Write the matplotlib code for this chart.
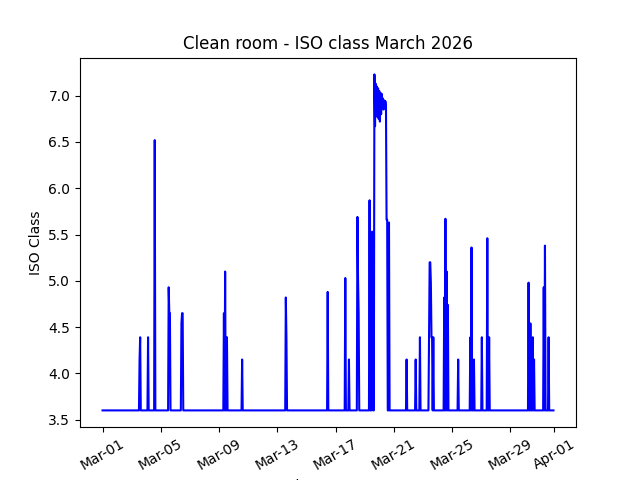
import matplotlib
matplotlib.use('Agg')
import matplotlib.pyplot as plt
import matplotlib.dates as mdates
import numpy as np
import pandas as pd

# hourly readings, March 2026
start = "2026-03-01 00:00"
n_hours = 744
baseline = 3.6

# hour index since Mar-01 00:00 -> ISO class reading
spike_hours = [61, 62, 75, 86, 109, 110, 111, 130, 131, 132,
               200, 202, 205, 230, 302, 303, 371, 400, 406,
               420, 421, 422, 440, 444, 445,
               468, 469, 472, 501, 516, 523,
               538, 539, 540, 541, 542, 543, 545,
               563, 565, 567, 569, 586, 606, 608, 612, 625, 634, 637,
               702, 705, 709, 711, 727, 729, 735]
spike_levels = [4.15, 4.39, 4.39, 6.52, 4.93, 4.65, 4.65, 4.54, 4.65, 4.65,
                4.65, 5.10, 4.39, 4.15, 4.82, 4.39, 4.88, 5.03, 4.15,
                5.69, 5.03, 4.65, 5.87, 5.53, 5.53,
                5.66, 5.66, 5.63, 4.15, 4.15, 4.39,
                4.39, 5.20, 5.20, 4.98, 4.39, 4.39, 4.39,
                4.82, 5.67, 5.10, 4.74, 4.15, 4.39, 5.36, 4.15, 4.39, 5.46, 4.39,
                4.98, 4.54, 4.39, 4.15, 4.93, 5.38, 4.39]

# long excursion on Mar-19 (hours 448..467)
block_start = 448
block_levels = [7.23, 6.67, 7.13, 6.81, 7.10, 6.77, 7.08, 6.75, 7.05, 6.72,
                7.03, 6.80, 7.02, 6.92, 6.97, 6.85, 6.95, 6.88, 6.94, 6.90]

times = pd.date_range(start, periods=n_hours, freq="h")
iso = np.full(n_hours, baseline)
iso[spike_hours] = spike_levels
iso[block_start:block_start + len(block_levels)] = block_levels

fig, ax = plt.subplots(figsize=(6.4, 4.8), dpi=100)
ax.plot(times, iso, color="blue", linewidth=1.5)
ax.set_title("Clean room - ISO class March 2026")
ax.set_ylabel("ISO Class")
ax.set_xlabel("timestamp")
ax.xaxis.set_major_formatter(mdates.DateFormatter("%b-%d"))
plt.xticks(rotation=30)

fig.savefig("out.png")
